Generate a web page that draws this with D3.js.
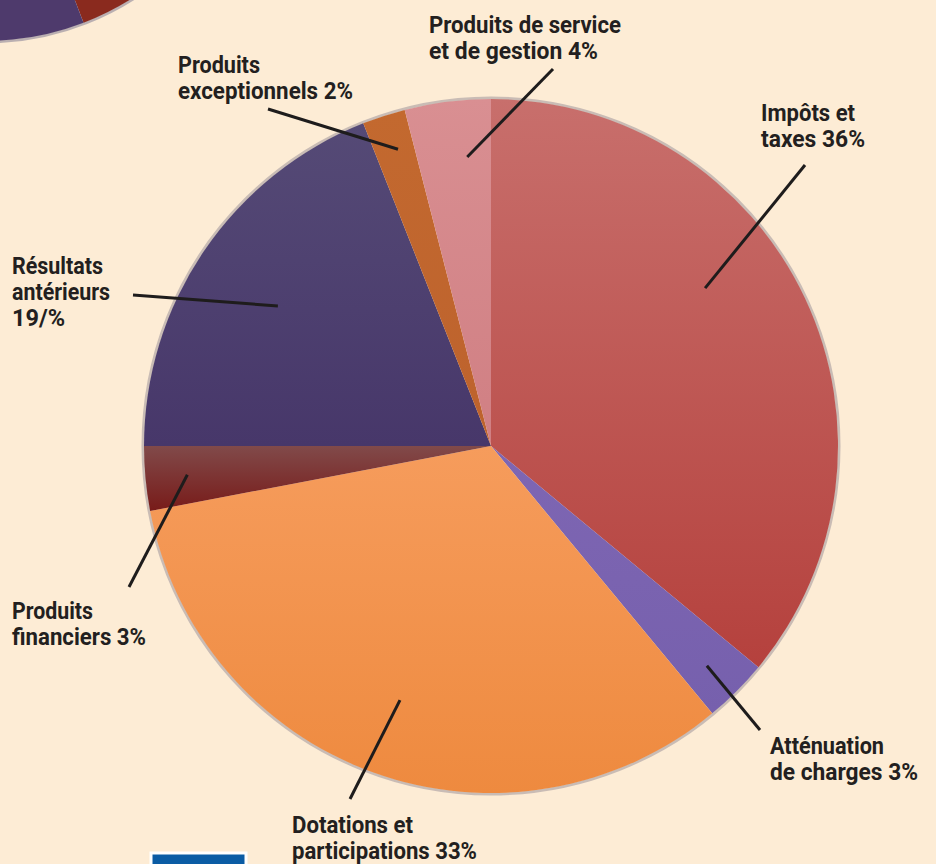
<!DOCTYPE html>
<html>
<head>
<meta charset="utf-8">
<script src="https://cdn.jsdelivr.net/npm/d3@7"></script>
<style>
  html, body { margin: 0; padding: 0; background: #fdecd5; }
  svg { display: block; }
  .lbl { font-family: Roboto, "DejaVu Sans", sans-serif; font-weight: bold; font-size: 24px; fill: #231f20; }
</style>
</head>
<body>
<div id="chart"></div>
<script>
// ---------- data ----------
const labels = [
  "Impôts et taxes",
  "Atténuation de charges",
  "Dotations et participations",
  "Produits financiers",
  "Résultats antérieurs",
  "Produits exceptionnels",
  "Produits de service et de gestion"
];
const values = [36, 3, 33, 3, 19, 2, 4];
const labelLines = [
  ["Impôts et", "taxes 36%"],
  ["Atténuation", "de charges 3%"],
  ["Dotations et", "participations 33%"],
  ["Produits", "financiers 3%"],
  ["Résultats", "antérieurs", "19/%"],
  ["Produits", "exceptionnels 2%"],
  ["Produits de service", "et de gestion 4%"]
];
// slice colours: [top, bottom]
const sliceColors = [
  ["#c86f6c", "#b5413d"],
  ["#7e66b3", "#7660ad"],
  ["#f69c5c", "#ee8a3f"],
  ["#814a4a", "#781b19"],
  ["#554a76", "#47376a"],
  ["#c3692f", "#bd622d"],
  ["#d98f92", "#d07f83"]
];

// previous chart's pie peeking in at the top-left corner
const prevValues = [20, 19, 61];
const prevColors = ["none", "#8a2a1e", "#4e3a6c"];

// ---------- layout ----------
const width = 936, height = 864;
const cx = 491, cy = 446, radius = 347;
const lineGap = 26;

// text block: x, first baseline, text widths; leader: outer end, inner end (angle deg, radius)
const labelLayout = [
  { x: 761, y: 121, w: [94, 104], out: [805, 165], ang: 53.6, r: 266 },
  { x: 770, y: 754, w: [114, 148], out: [760, 730], ang: 135.5, r: 308 },
  { x: 292, y: 833, w: [121, 185], out: [350, 799], ang: 199.7, r: 270 },
  { x: 12, y: 619, w: [81, 134], out: [129, 587], ang: 264.6, r: 305 },
  { x: 12, y: 274, w: [91, 98, 53], out: [133, 295], ang: 303.3, r: 255 },
  { x: 178, y: 73, w: [82, 175], out: [268, 109], ang: 342.6, r: 311 },
  { x: 429, y: 33, w: [192, 169], out: [553, 69], ang: 355.3, r: 290 }
];

const svg = d3.select("#chart")
  .append("svg")
  .attr("width", width)
  .attr("height", height);

const defs = svg.append("defs");

svg.append("rect")
  .attr("width", width)
  .attr("height", height)
  .attr("fill", "#fdecd5");

// ---------- previous pie (corner) ----------
const prevPie = d3.pie().sort(null)
  .startAngle(Math.PI * 120 / 180)
  .endAngle(Math.PI * 220 / 180)
  .value(d => d);
const prevArc = d3.arc().innerRadius(0).outerRadius(275);
const prevG = svg.append("g").attr("transform", "translate(-15,-234)");
prevG.append("circle")
  .attr("r", 276)
  .attr("fill", "none")
  .attr("stroke", "#8e8799")
  .attr("stroke-width", 3)
  .attr("opacity", 0.6);
prevG.selectAll("path")
  .data(prevPie(prevValues))
  .enter()
  .append("path")
  .attr("d", prevArc)
  .attr("fill", (d, i) => prevColors[i]);

// ---------- main pie ----------
const pie = d3.pie().sort(null).value(d => d);
const arc = d3.arc().innerRadius(0).outerRadius(radius);
const arcs = pie(values);

sliceColors.forEach((c, i) => {
  const grad = defs.append("linearGradient")
    .attr("id", "grad" + i)
    .attr("x1", 0).attr("y1", 0)
    .attr("x2", 0).attr("y2", 1);
  grad.append("stop").attr("offset", "0%").attr("stop-color", c[0]);
  grad.append("stop").attr("offset", "100%").attr("stop-color", c[1]);
});

const pieG = svg.append("g").attr("transform", `translate(${cx},${cy})`);

// soft rim
pieG.append("circle")
  .attr("r", radius + 1)
  .attr("fill", "none")
  .attr("stroke", "#968c95")
  .attr("stroke-width", 3)
  .attr("opacity", 0.5);

pieG.selectAll("path.slice")
  .data(arcs)
  .enter()
  .append("path")
  .attr("class", "slice")
  .attr("d", arc)
  .attr("fill", (d, i) => `url(#grad${i})`);

// ---------- leader lines ----------
labelLayout.forEach(L => {
  const a = L.ang * Math.PI / 180;
  svg.append("line")
    .attr("x1", L.out[0]).attr("y1", L.out[1])
    .attr("x2", cx + L.r * Math.sin(a))
    .attr("y2", cy - L.r * Math.cos(a))
    .attr("stroke", "#1e1c1c")
    .attr("stroke-width", 3);
});

// ---------- labels ----------
labelLayout.forEach((L, i) => {
  const t = svg.append("text").attr("class", "lbl");
  labelLines[i].forEach((s, j) => {
    t.append("tspan")
      .attr("x", L.x)
      .attr("y", L.y + j * lineGap)
      .attr("textLength", L.w[j])
      .attr("lengthAdjust", "spacingAndGlyphs")
      .text(s);
  });
});

// ---------- blue box at bottom ----------
svg.append("rect")
  .attr("x", 151)
  .attr("y", 853)
  .attr("width", 95)
  .attr("height", 20)
  .attr("fill", "#0b5ca4")
  .attr("stroke", "#ffffff")
  .attr("stroke-width", 3);
</script>
</body>
</html>
